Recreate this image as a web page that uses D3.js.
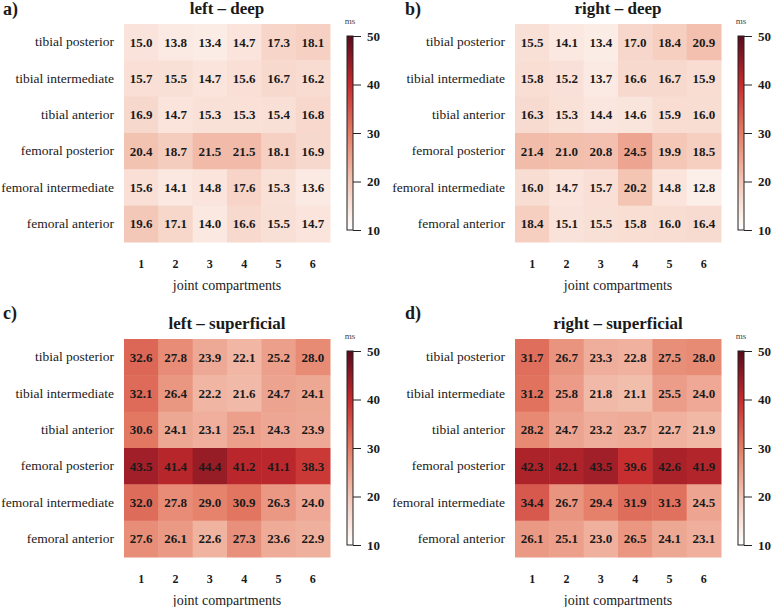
<!DOCTYPE html>
<html><head><meta charset="utf-8">
<script src="https://cdn.jsdelivr.net/npm/d3@7"></script>
<style>body{margin:0;background:#fff}svg{display:block}</style>
</head><body>
<script>
const rows = ["tibial posterior","tibial intermediate","tibial anterior","femoral posterior","femoral intermediate","femoral anterior"];
const cols = ["1","2","3","4","5","6"];
const leftDeep = [
 [15.0,13.8,13.4,14.7,17.3,18.1],
 [15.7,15.5,14.7,15.6,16.7,16.2],
 [16.9,14.7,15.3,15.3,15.4,16.8],
 [20.4,18.7,21.5,21.5,18.1,16.9],
 [15.6,14.1,14.8,17.6,15.3,13.6],
 [19.6,17.1,14.0,16.6,15.5,14.7]];
const rightDeep = [
 [15.5,14.1,13.4,17.0,18.4,20.9],
 [15.8,15.2,13.7,16.6,16.7,15.9],
 [16.3,15.3,14.4,14.6,15.9,16.0],
 [21.4,21.0,20.8,24.5,19.9,18.5],
 [16.0,14.7,15.7,20.2,14.8,12.8],
 [18.4,15.1,15.5,15.8,16.0,16.4]];
const leftSuperficial = [
 [32.6,27.8,23.9,22.1,25.2,28.0],
 [32.1,26.4,22.2,21.6,24.7,24.1],
 [30.6,24.1,23.1,25.1,24.3,23.9],
 [43.5,41.4,44.4,41.2,41.1,38.3],
 [32.0,27.8,29.0,30.9,26.3,24.0],
 [27.6,26.1,22.6,27.3,23.6,22.9]];
const rightSuperficial = [
 [31.7,26.7,23.3,22.8,27.5,28.0],
 [31.2,25.8,21.8,21.1,25.5,24.0],
 [28.2,24.7,23.2,23.7,22.7,21.9],
 [42.3,42.1,43.5,39.6,42.6,41.9],
 [34.4,26.7,29.4,31.9,31.3,24.5],
 [26.1,25.1,23.0,26.5,24.1,23.1]];
const colorTicks = [10,20,30,40,50];
const panelLetters = ["a)","b)","c)","d)"];
const panelTitles = ["left \u2013 deep","right \u2013 deep","left \u2013 superficial","right \u2013 superficial"];
const xTitle = "joint compartments";
const unit = "ms";

const FONT = "'Liberation Serif','DejaVu Serif',serif";
const INK = "#1a1a1a";
const W = 777, H = 607;
const svg = d3.select("body").append("svg").attr("width", W).attr("height", H)
  .attr("font-family", FONT);

const color = d3.scaleLinear().domain([10,20,30,40,50])
  .range(["#ffffff","#f4c6b5","#e47c65","#c62b2e","#5a0a1c"]).clamp(true);

const defs = svg.append("defs");
const grad = defs.append("linearGradient").attr("id","cb").attr("x1",0).attr("x2",0).attr("y1",1).attr("y2",0);
d3.range(0,1.0001,0.05).forEach(t => grad.append("stop").attr("offset", t).attr("stop-color", color(10 + 40*t)));

const panels = [
  {data:leftDeep, ox:0, oy:0, lx:3, ly:15},
  {data:rightDeep, ox:391, oy:0, lx:405, ly:15},
  {data:leftSuperficial, ox:0, oy:315, lx:3, ly:319},
  {data:rightSuperficial, ox:391, oy:315, lx:405, ly:319}
];

const hx = 124, hy = 24, hw = 206, hh = 218;
const x = d3.scaleBand().domain(cols).range([hx, hx+hw]);
const y = d3.scaleBand().domain(rows).range([hy, hy+hh]);
const cbScale = d3.scaleLinear().domain([10,50]).range([230, 36]);

function styleAxisText(sel, size, weight) {
  sel.attr("font-family", FONT);
  sel.selectAll("text").attr("font-size", size).attr("font-weight", weight)
    .attr("font-family", FONT).attr("fill", INK);
}

panels.forEach((p, i) => {
  svg.append("text").attr("x", p.lx).attr("y", p.ly).attr("font-size", 18).attr("font-weight", "bold")
    .attr("fill", INK).text(panelLetters[i]);
  const g = svg.append("g").attr("transform", `translate(${p.ox},${p.oy})`);
  g.append("text").attr("x", hx + hw/2).attr("y", 14).attr("text-anchor","middle")
    .attr("font-size", 17).attr("font-weight","bold").attr("fill", INK).text(panelTitles[i]);
  const cells = [];
  p.data.forEach((r, ri) => r.forEach((v, ci) => cells.push({row: rows[ri], col: cols[ci], v})));
  g.selectAll("rect.c").data(cells).join("rect").attr("class","c")
    .attr("x", d => x(d.col)).attr("y", d => y(d.row))
    .attr("width", x.bandwidth()+0.5).attr("height", y.bandwidth()+0.5)
    .attr("fill", d => color(d.v));
  g.selectAll("text.v").data(cells).join("text").attr("class","v")
    .attr("x", d => x(d.col) + x.bandwidth()/2).attr("y", d => y(d.row) + y.bandwidth()/2)
    .attr("dy","0.35em").attr("text-anchor","middle").attr("font-size", 13).attr("font-weight","bold")
    .attr("fill", INK).text(d => d.v.toFixed(1));
  const ay = g.append("g").attr("transform", `translate(${hx-10},0)`)
    .call(d3.axisLeft(y).tickSize(0).tickPadding(0));
  ay.select(".domain").remove();
  styleAxisText(ay, 13.5, "normal");
  const ax = g.append("g").attr("transform", `translate(0,${hy+hh+17})`)
    .call(d3.axisBottom(x).tickSize(0).tickPadding(0));
  ax.select(".domain").remove();
  styleAxisText(ax, 12, "bold");
  g.append("text").attr("x", hx + hw/2).attr("y", 290).attr("text-anchor","middle").attr("font-size", 14)
    .attr("fill", INK).text(xTitle);
  const cbx = 347, cbw = 6;
  g.append("rect").attr("x", cbx).attr("y", cbScale(50)).attr("width", cbw).attr("height", cbScale(10)-cbScale(50))
    .attr("fill","url(#cb)").attr("stroke","#222").attr("stroke-width",1);
  const ac = g.append("g").attr("transform", `translate(${cbx+cbw},0)`)
    .call(d3.axisRight(cbScale).tickValues(colorTicks).tickSize(8).tickPadding(6));
  ac.select(".domain").remove();
  ac.selectAll("line").attr("stroke","#222");
  styleAxisText(ac, 13, "bold");
  g.append("text").attr("x", cbx+3).attr("y", 24).attr("text-anchor","middle").attr("font-size", 9)
    .attr("fill","#444").text(unit);
});
</script>
</body></html>
